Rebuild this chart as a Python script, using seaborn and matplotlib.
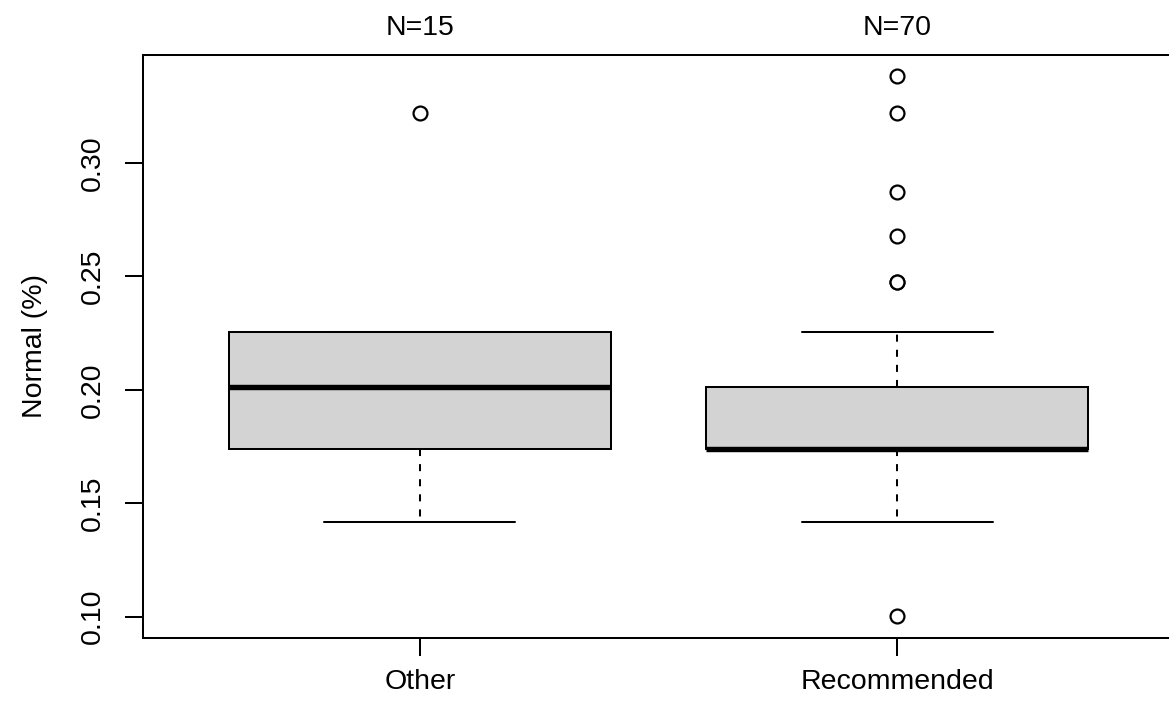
import numpy as np
import pandas as pd
import matplotlib
matplotlib.use("Agg")
import matplotlib.pyplot as plt
import matplotlib.transforms as mtransforms
import seaborn as sns

# ---- data ----
categories = ["Other", "Recommended"]
counts_label = ["N=15", "N=70"]

other_values = [0.1418, 0.1418, 0.1739, 0.1739, 0.1739, 0.1739,
                0.2011, 0.2011, 0.2011, 0.2254, 0.2254, 0.2254,
                0.2254, 0.2254, 0.3220]

recommended_values = ([0.1003]
                      + [0.1418] * 16
                      + [0.1739] * 24
                      + [0.2011] * 15
                      + [0.2254] * 8
                      + [0.2475, 0.2475, 0.2678, 0.2872, 0.3220, 0.3384])

yticks = [0.10, 0.15, 0.20, 0.25, 0.30]
ytick_labels = ["0.10", "0.15", "0.20", "0.25", "0.30"]

df = pd.DataFrame({
    "group": [categories[0]] * len(other_values) + [categories[1]] * len(recommended_values),
    "value": other_values + recommended_values,
})

# ---- style ----
sns.set_style("white")
plt.rcParams["font.family"] = ["Liberation Sans", "DejaVu Sans"]
plt.rcParams["text.color"] = "black"
plt.rcParams["axes.labelcolor"] = "black"
FS = 20.5
LW = 1.45

fig = plt.figure(figsize=(11.69, 7.04), dpi=100)
ax = fig.add_axes([143 / 1169, 1 - 638 / 704, (1174 - 143) / 1169, (638 - 55) / 704])

sns.boxplot(
    data=df, x="group", y="value", order=categories, ax=ax,
    width=0.8, color="#D3D3D3", saturation=1, linecolor="black",
    linewidth=LW, whis=1.5,
    medianprops=dict(linewidth=3.9, color="black", solid_capstyle="butt"),
    whiskerprops=dict(linestyle=(0, (3.5, 4.0)), linewidth=LW, color="black"),
    capprops=dict(linestyle="-", linewidth=LW, color="black"),
    flierprops=dict(marker="o", markersize=10, markerfacecolor="white",
                    markeredgecolor="black", markeredgewidth=1.6, linestyle="none"),
)

ax.set_xlim(-0.58, 1.58)
ax.set_ylim(0.0906, 0.3476)
ax.set_yticks(yticks)
ax.set_yticklabels(ytick_labels)
ax.set_xticks(range(len(categories)))
ax.set_xticklabels(categories)
ax.set_xlabel("")
ax.set_ylabel("Normal (%)", fontsize=FS, va="center", color="black")
ax.yaxis.set_label_coords(-0.1045, 0.5)

for side in ["left", "bottom", "top", "right"]:
    ax.spines[side].set_visible(True)
    ax.spines[side].set_color("black")
    ax.spines[side].set_linewidth(LW)

ax.tick_params(axis="both", direction="out", length=13, width=LW, color="black",
               labelsize=FS, labelcolor="black", left=True, bottom=True)
ax.tick_params(axis="y", pad=14, labelrotation=90)
ax.tick_params(axis="x", pad=9)
for lab in ax.get_yticklabels():
    lab.set_va("center")

trans = mtransforms.blended_transform_factory(ax.transData, ax.transAxes)
for i, txt in enumerate(counts_label):
    ax.text(i, 1 + (55 - 35) / 583, txt, transform=trans, ha="center", va="baseline",
            fontsize=FS, color="black")

fig.savefig("out.png", dpi=100)
